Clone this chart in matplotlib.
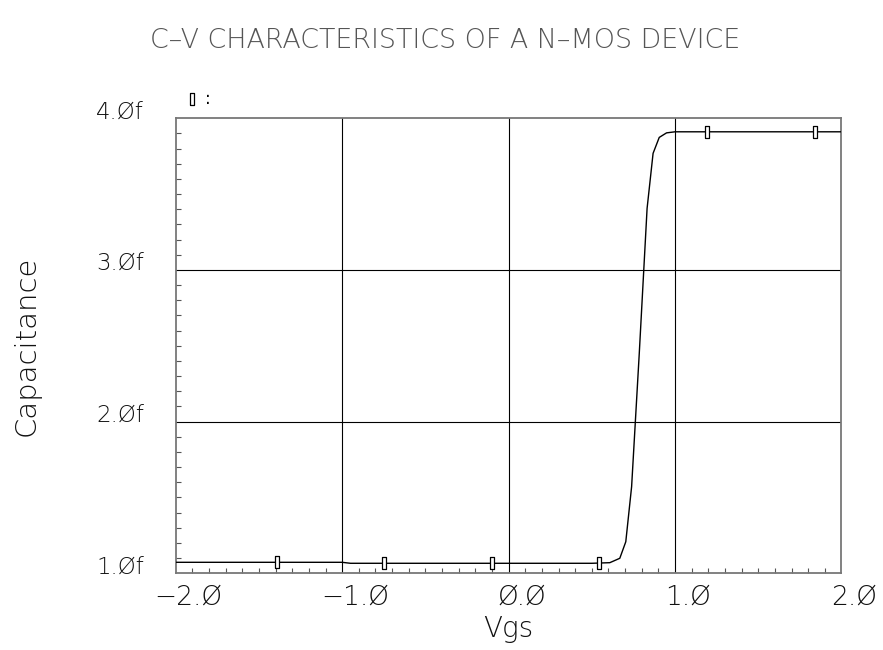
import numpy as np
import matplotlib
matplotlib.use("Agg")
import matplotlib.pyplot as plt
from matplotlib.ticker import MultipleLocator, FixedLocator
from matplotlib.transforms import offset_copy

# C-V curve (Vgs in V, C in fF)
vgs = [-2.0, -1.0, -0.95, 0.0, 0.50, 0.608, 0.668, 0.704, 0.739, 0.785,
       0.832, 0.868, 0.905, 0.949, 1.0, 2.0]
cap = [1.0725, 1.0725, 1.066, 1.066, 1.066, 1.070, 1.099, 1.208, 1.571, 2.45,
       3.406, 3.769, 3.874, 3.904, 3.911, 3.911]

# sample markers along the trace
mark_v = [-1.393, -0.747, -0.099, 0.544, 1.191, 1.840]
mark_c = [1.0725, 1.066, 1.066, 1.066, 3.911, 3.911]

xticks = [-2.0, -1.0, 0.0, 1.0, 2.0]
xlabels = ["\u22122.\u00d8", "\u22121.\u00d8", "\u00d8.\u00d8", "1.\u00d8", "2.\u00d8"]
yticks = [1.0, 2.0, 3.0, 4.0]
ylabels = ["1.\u00d8f", "2.\u00d8f", "3.\u00d8f", "4.\u00d8f"]

# tall thin box marker
box = [(-0.17, -0.5), (0.17, -0.5), (0.17, 0.5), (-0.17, 0.5), (-0.17, -0.5)]
txt = "#111111"

fig = plt.figure(figsize=(8.83, 6.5), dpi=100)
ax = fig.add_axes([0.199, 0.118, 0.754, 0.700])

ax.plot(vgs, cap, color="black", lw=1.0, zorder=3)
ax.plot(mark_v, mark_c, ls="none", marker=box, ms=8, mfc="white",
        mec="black", mew=0.9, zorder=4)

# interior grid lines only
for xv in xticks[1:-1]:
    ax.axvline(xv, color="black", lw=0.8, zorder=1)
for yv in yticks[1:-1]:
    ax.axhline(yv, color="black", lw=0.8, zorder=1)

ax.set_xlim(-2.0, 2.0)
ax.set_ylim(1.0, 4.0)

ax.xaxis.set_major_locator(FixedLocator(xticks))
ax.yaxis.set_major_locator(FixedLocator(yticks))
ax.xaxis.set_minor_locator(MultipleLocator(0.1))
ax.yaxis.set_minor_locator(MultipleLocator(0.1))
ax.tick_params(which="major", length=0)
ax.tick_params(which="minor", direction="in", length=3.8, width=0.8,
               color="#555555", top=False, right=False)
ax.tick_params(axis="x", which="major", pad=8)
ax.tick_params(axis="y", which="major", pad=23)

ax.set_xticklabels(xlabels, fontsize=19, color=txt, fontweight="light")
ax.set_yticklabels(ylabels, fontsize=16.5, color=txt, va="baseline",
                   fontweight="light")
for lab in ax.get_xticklabels():
    lab.set_transform(offset_copy(lab.get_transform(), fig=fig, x=13, units="dots"))

for sp in ax.spines.values():
    sp.set_color("#777777")
    sp.set_linewidth(1.3)

ax.set_xlabel("Vgs", fontsize=20, color=txt, labelpad=4, fontweight="light")
ax.set_ylabel("Capacitance", fontsize=21, color=txt, labelpad=40,
              fontweight="light")

# legend stub at top-left
ax.plot([0.024], [1.0424], transform=ax.transAxes, clip_on=False, ls="none",
        marker=box, ms=8, mfc="white", mec="black", mew=0.9)
ax.text(0.0485, 1.0424, ":", transform=ax.transAxes, fontsize=12,
        ha="center", va="center", color="black")

fig.text(0.5045, 0.938, "C\u2013V CHARACTERISTICS OF A N\u2013MOS DEVICE",
         fontsize=19.4, ha="center", va="center", color="#555555",
         fontweight="light")

fig.savefig("out.png", dpi=100)
